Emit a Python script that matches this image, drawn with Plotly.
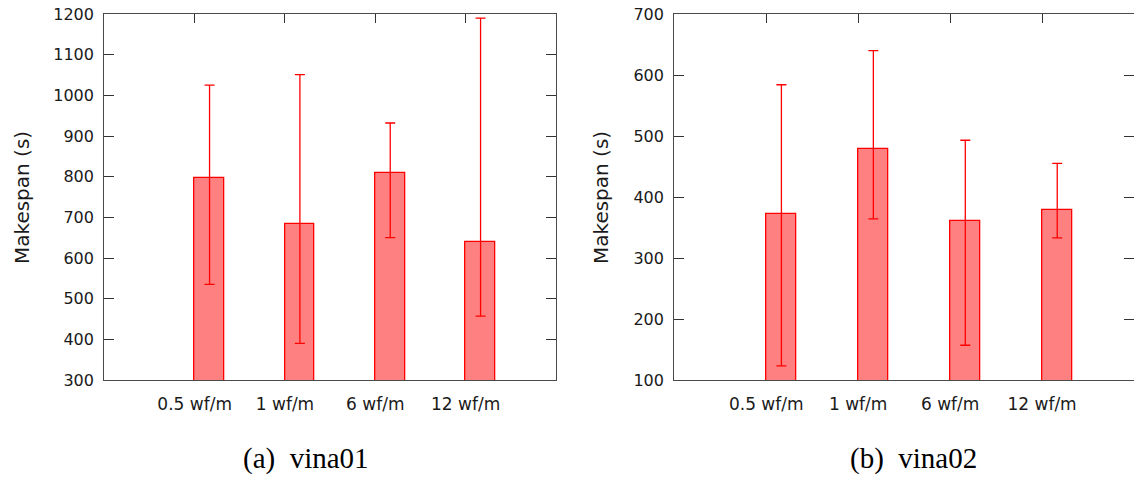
import plotly.graph_objects as go

categories = ["0.5 wf/m", "1 wf/m", "6 wf/m", "12 wf/m"]

# vina01
vina01_mean = [797, 683, 808, 639]
vina01_upper = [1025, 1051, 932, 1190]
vina01_lower = [535, 390, 650, 457]

# vina02
vina02_mean = [372, 479, 360, 379]
vina02_upper = [584, 640, 493, 455]
vina02_lower = [123, 364, 157, 333]

y1_ticks = [300, 400, 500, 600, 700, 800, 900, 1000, 1100, 1200]
y2_ticks = [100, 200, 300, 400, 500, 600, 700]

captions = ["(a)  vina01", "(b)  vina02"]
y_title = "Makespan (s)"

W, H = 1134, 488
FILL = "rgb(255,128,128)"
EDGE = "rgb(255,0,0)"
FONT = "DejaVu Sans"


def px(x):
    return x / W


def py(y):
    return 1 - y / H


fig = go.Figure()


def add_panel(mean, upper, lower, xa, ya):
    plus = [u - m for u, m in zip(upper, mean)]
    minus = [m - l for m, l in zip(mean, lower)]
    fig.add_trace(go.Bar(
        x=categories, y=mean, xaxis=xa, yaxis=ya,
        offset=0, width=0.33,
        marker=dict(color=FILL, line=dict(color=EDGE, width=1.3)),
        error_y=dict(type="data", symmetric=False, array=plus, arrayminus=minus,
                     color=EDGE, thickness=1.3, width=5),
        showlegend=False,
    ))


add_panel(vina01_mean, vina01_upper, vina01_lower, "x", "y")
add_panel(vina02_mean, vina02_upper, vina02_lower, "x2", "y2")

ytop = py(14)
ybot = py(380)

axis_common = dict(
    showline=True, linecolor="#4a4a4a", linewidth=1.3, mirror="ticks",
    ticks="inside", tickcolor="#333333", tickwidth=1.3,
    showgrid=False, zeroline=False, layer="below traces", automargin=False,
    ticklabeloverflow="allow",
)
xfont = dict(family=FONT, size=17, color="#1a1a1a")
yfont = dict(family=FONT, size=16, color="#1a1a1a")

fig.update_layout(
    width=W, height=H,
    margin=dict(l=0, r=0, t=0, b=0),
    paper_bgcolor="white", plot_bgcolor="white",
    bargap=0,
    xaxis=dict(domain=[px(104.3), px(556)], anchor="y", type="category",
               range=[-1, 4], ticklen=9, ticklabelstandoff=8, tickfont=xfont, **axis_common),
    yaxis=dict(domain=[ybot, ytop], anchor="x", range=[y1_ticks[0], y1_ticks[-1]],
               tickvals=y1_ticks, ticklen=10, ticklabelstandoff=6, tickfont=yfont, **axis_common),
    xaxis2=dict(domain=[px(674.3), 1.0], anchor="y2", type="category",
                range=[-1, 4], ticklen=9, ticklabelstandoff=8, tickfont=xfont, **axis_common),
    yaxis2=dict(domain=[ybot, ytop], anchor="x2", range=[y2_ticks[0], y2_ticks[-1]],
                tickvals=y2_ticks, ticklen=10, ticklabelstandoff=6, tickfont=yfont, **axis_common),
)

# y-axis titles
for xc in (22, 601):
    fig.add_annotation(x=px(xc), y=py(198), xref="paper", yref="paper",
                       text=y_title, textangle=-90, showarrow=False,
                       font=dict(family=FONT, size=20, color="#1a1a1a"),
                       xanchor="center", yanchor="middle")

# captions
for xc, cap in zip((306, 913), captions):
    fig.add_annotation(x=px(xc), y=py(458), xref="paper", yref="paper",
                       text=cap, showarrow=False,
                       font=dict(family="Liberation Serif", size=29, color="black"),
                       xanchor="center", yanchor="middle")

fig.write_html(
    "out.html",
    config={"displayModeBar": False},
    post_script="document.body.style.margin='0';document.body.style.overflow='hidden';",
)
